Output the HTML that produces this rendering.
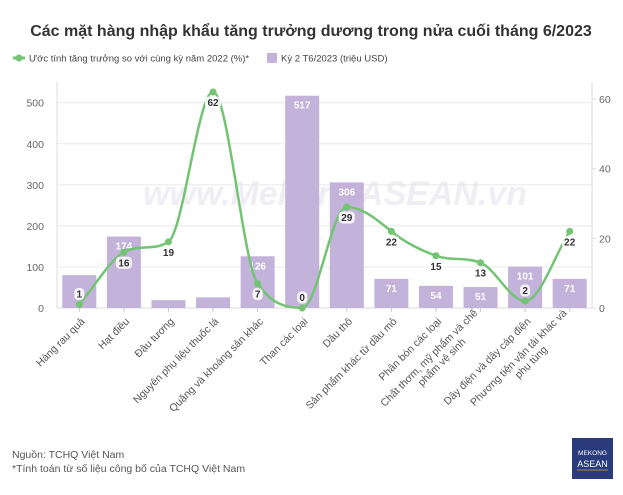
<!DOCTYPE html>
<html><head><meta charset="utf-8">
<style>
body{margin:0;background:#fff;font-family:"Liberation Sans",sans-serif;}
svg text{font-family:"Liberation Sans",sans-serif;}
</style></head>
<body>
<svg width="623" height="490" viewBox="0 0 623 490">
<text x="311" y="36" text-anchor="middle" font-size="16" font-weight="bold" fill="#333">Các mặt hàng nhập khẩu tăng trưởng dương trong nửa cuối tháng 6/2023</text>
<g>
 <g>
  <line x1="13" y1="58" x2="25" y2="58" stroke="#72c472" stroke-width="3"/>
  <circle cx="19" cy="58" r="3.5" fill="#72c472"/>
  <text x="29" y="61.5" font-size="9.5" fill="#444">Ước tính tăng trưởng so với cùng kỳ năm 2022 (%)*</text>
 </g>
 <g>
  <rect x="267" y="53" width="10" height="10" fill="#c3b3da"/>
  <text x="281" y="61.5" font-size="9.5" fill="#444">Kỳ 2 T6/2023 (triệu USD)</text>
 </g>
</g>
<text x="335" y="205" text-anchor="middle" font-size="34" font-weight="bold" font-style="italic" fill="#eeeef4">www.MekongASEAN.vn</text>
<g id="grid"></g>
<g id="axes"></g>
<g id="bars"></g>
<g id="line"></g>
<g id="xlabels"></g>
<text x="12" y="458" font-size="10.5" fill="#555">Nguồn: TCHQ Việt Nam</text>
<text x="12" y="472" font-size="10.5" fill="#555">*Tính toán từ số liệu công bố của TCHQ Việt Nam</text>
<g>
 <rect x="572" y="438" width="41" height="41" fill="#2b3a7a"/>
 <text x="592.5" y="455" text-anchor="middle" font-size="6.5" fill="#fff" font-family="Liberation Serif">MEKONG</text>
 <text x="592.5" y="467" text-anchor="middle" font-size="9" fill="#fff" font-family="Liberation Serif">ASEAN</text>
 <line x1="577" y1="470" x2="608" y2="470" stroke="#c9a84a" stroke-width="0.7"/>
</g>
</svg>
<script>
const categories=["Hàng rau quả","Hạt điều","Đậu tương","Nguyên phụ liệu thuốc lá","Quặng và khoáng sản khác","Than các loại","Dầu thô","Sản phẩm khác từ dầu mỏ","Phân bón các loại","Chất thơm, mỹ phẩm và chế|phẩm vệ sinh","Dây điện và dây cáp điện","Phương tiện vận tải khác và|phụ tùng"];
const barValues=[80,174,19,26,126,517,306,71,54,51,101,71];
const barLabels=["","174","","","126","517","306","71","54","51","101","71"];
const growthValues=[1,16,19,62,7,0,29,22,15,13,2,22];
const leftTicks=[0,100,200,300,400,500];
const rightTicks=[0,20,40,60];
const labelAbove=[true,false,false,false,false,true,false,false,false,false,true,false];

const NS="http://www.w3.org/2000/svg";
const X0=57,X1=592,Y0=308;
const step=(X1-X0)/categories.length;
function xPos(i){return X0+step*(i+0.5);}
function yL(v){return Y0-v*(Y0-102.7)/500;}
function yR(v){return Y0-v*(Y0-99)/60;}
function mk(tag,attrs,parent){const e=document.createElementNS(NS,tag);for(const k in attrs)e.setAttribute(k,attrs[k]);parent.appendChild(e);return e;}

const grid=document.getElementById('grid'),axes=document.getElementById('axes');
leftTicks.forEach(t=>{
 const l=mk('line',{x1:X0,x2:X1,y1:yL(t),y2:yL(t),stroke:'#e8e8e8','stroke-width':1},grid);
 
 
 const tx=mk('text',{x:X0-13,y:yL(t)+4,'text-anchor':'end','font-size':10.5,fill:'#666'},axes);
 tx.textContent=t;
 
 
});
rightTicks.forEach(t=>{
 const tx=mk('text',{x:X1+7,y:yR(t)+4,'font-size':10.5,fill:'#666'},axes);
 tx.textContent=t;
 
 
 mk('line',{x1:X1,x2:X1+4,y1:yR(t),y2:yR(t),stroke:'#ddd'},axes);
});
mk('line',{x1:X0,x2:X0,y1:82,y2:Y0,stroke:'#ddd'},axes);
mk('line',{x1:X1,x2:X1,y1:82,y2:Y0,stroke:'#ddd'},axes);
mk('line',{x1:X0,x2:X1,y1:Y0,y2:Y0,stroke:'#ddd'},axes);

const bars=document.getElementById('bars');
barValues.forEach((v,i)=>{
 const bw=34;
 const r=mk('rect',{x:xPos(i)-bw/2,y:yL(v),width:bw,height:Y0-yL(v),fill:'#c3b3da'},bars);
 
 
 mk('line',{x1:xPos(i),x2:xPos(i),y1:Y0,y2:Y0+4,stroke:'#ccc'},axes);
 if(barLabels[i]){
  const t=mk('text',{x:xPos(i),y:yL(v)+13,'text-anchor':'middle','font-size':10,'font-weight':'bold',fill:'#fff'},bars);
  t.textContent=barLabels[i];
  
  
 }
});

const lg=document.getElementById('line');
const pts=growthValues.map((v,i)=>[xPos(i),yR(v)]);
// monotone cubic tangents
const n=pts.length,dl=[],m=[];
for(let i=0;i<n-1;i++)dl.push((pts[i+1][1]-pts[i][1])/step);
for(let i=0;i<n;i++){
 if(i==0)m.push(dl[0]);else if(i==n-1)m.push(dl[n-2]);
 else if(dl[i-1]*dl[i]<=0)m.push(0);
 else m.push(3*(dl[i-1]+dl[i])/2/ (1+ (dl[i-1]/dl[i]+dl[i]/dl[i-1])/2) );
}
let d='M'+pts[0][0]+','+pts[0][1];
for(let i=0;i<n-1;i++){
 const h=step/3;
 d+=' C'+(pts[i][0]+h)+','+(pts[i][1]+m[i]*h)+' '+(pts[i+1][0]-h)+','+(pts[i+1][1]-m[i+1]*h)+' '+pts[i+1][0]+','+pts[i+1][1];
}
const path=mk('path',{d:d,fill:'none',stroke:'#72c472','stroke-width':2.5},lg);


pts.forEach((p,i)=>{
 const c=mk('circle',{cx:p[0],cy:p[1],r:3.5,fill:'#72c472'},lg);
 
 
 const ty=labelAbove[i]?p[1]-7:p[1]+14;
 const s=String(growthValues[i]);
 const w=s.length*6+4;
 mk('rect',{x:p[0]-w/2,y:ty-9.5,width:w,height:12,rx:4,fill:'#fff','fill-opacity':0.85},lg);
 const t=mk('text',{x:p[0],y:ty,'text-anchor':'middle','font-size':10,'font-weight':'bold',fill:'#333'},lg);
 t.textContent=s;
 
 
});

const xl=document.getElementById('xlabels');
categories.forEach((c,i)=>{
 const lines=c.split('|');
 const g=mk('g',{transform:'translate('+(xPos(i)+4)+','+(Y0+12)+') rotate(-45)'},xl);
 
 
 lines.forEach((ln,j)=>{
  const t=mk('text',{x:0,y:(j-(lines.length-1))*12+3,'text-anchor':'end','font-size':10.5,fill:'#555'},g);
  if(lines.length>1&&j==1){t.setAttribute('text-anchor','middle');t.setAttribute('x',-60);}
  t.textContent=ln;
 });
});
</script>
</body></html>
